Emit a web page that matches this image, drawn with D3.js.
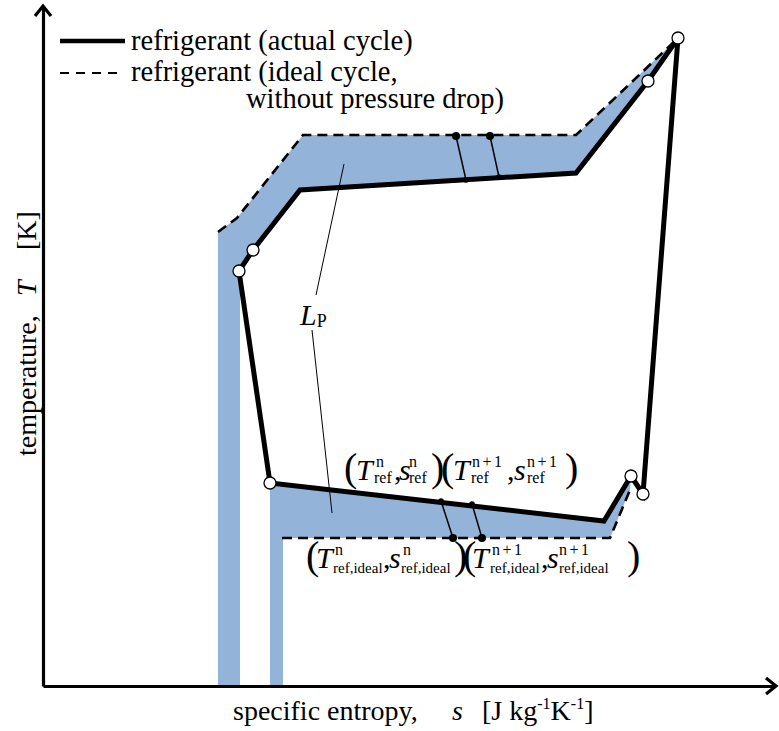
<!DOCTYPE html>
<html><head><meta charset="utf-8">
<script src="https://cdn.jsdelivr.net/npm/d3@7"></script>
<style>body{margin:0;background:#fff}svg{display:block}text{font-family:"Liberation Serif","Times New Roman",serif;fill:#000}</style>
</head><body>
<script>
// ---- data (s in arbitrary entropy units, T in arbitrary temperature units) ----
const actualS = [635, 605, 533, 257, 210, 196, 227, 561, 588, 600, 635];
const actualT = [648, 605, 513, 496, 436, 415, 203, 165, 210, 192, 648];
const stateIdx = [0, 1, 4, 5, 6, 8, 9];            // open-circle state points on actual cycle

const idealTopS = [175, 194, 260, 533, 633];
const idealTopT = [454, 468, 551, 551, 646];
const idealBotS = [239, 567, 587];
const idealBotT = [148, 148, 196];

const bandTopS = [175, 175, 194, 260, 533, 635, 533, 257, 210, 197, 197];
const bandTopT = [0, 454, 468, 551, 551, 648, 513, 496, 436, 415, 0];
const bandBotS = [227, 227, 561, 588, 587, 567, 240, 240];
const bandBotT = [0, 203, 165, 210, 196, 148, 148, 0];

// connecting lines between ideal (1) and actual (2) states n, n+1
const linkS1 = [413, 447, 410, 439];
const linkT1 = [550, 550, 148, 148];
const linkS2 = [423, 456, 398, 429];
const linkT2 = [506, 509, 185, 182];

// L_P leader lines
const leaderAS = [301, 273];
const leaderAT = [522, 391];
const leaderBS = [269, 289];
const leaderBT = [356, 173];

const legendLabels = ["refrigerant (actual cycle)", "refrigerant (ideal cycle,", "without pressure drop)"];
const supLabels = ["n", "n+1"];
const subTop = "ref";
const subBottom = "ref,ideal";

// ---- layout ----
const W = 779, H = 731;
const svg = d3.select("body").append("svg").attr("width", W).attr("height", H);
const x = d3.scaleLinear().domain([0, 732]).range([43, 775]);
const y = d3.scaleLinear().domain([0, 680]).range([686, 6]);
const BLUE = "#94b3d8";
const line = d3.line().x(d => x(d[0])).y(d => y(d[1]));
const zip = (a, b) => a.map((v, i) => [v, b[i]]);

// bands
svg.append("path").attr("d", line(zip(bandTopS, bandTopT)) + "Z").attr("fill", BLUE);
svg.append("path").attr("d", line(zip(bandBotS, bandBotT)) + "Z").attr("fill", BLUE);

// ideal cycle (dashed)
[[idealTopS, idealTopT], [idealBotS, idealBotT]].forEach(([s, t]) => {
  svg.append("path").attr("d", line(zip(s, t))).attr("fill", "none")
    .attr("stroke", "#000").attr("stroke-width", 2.6).attr("stroke-dasharray", "10,6");
});

// leader lines
[[leaderAS, leaderAT], [leaderBS, leaderBT]].forEach(([s, t]) => {
  svg.append("path").attr("d", line(zip(s, t))).attr("stroke", "#000").attr("stroke-width", 1);
});

// actual cycle
svg.append("path").attr("d", line(zip(actualS, actualT))).attr("fill", "none")
  .attr("stroke", "#000").attr("stroke-width", 5).attr("stroke-linejoin", "miter");

// link lines + dots
linkS1.forEach((s, i) => {
  svg.append("line").attr("x1", x(s)).attr("y1", y(linkT1[i])).attr("x2", x(linkS2[i])).attr("y2", y(linkT2[i]))
    .attr("stroke", "#000").attr("stroke-width", 1.5);
});
svg.selectAll(".idot").data(linkS1.map((s, i) => [s, linkT1[i]])).join("circle")
  .attr("cx", d => x(d[0])).attr("cy", d => y(d[1])).attr("r", 4).attr("fill", "#000");
svg.selectAll(".adot").data(linkS2.map((s, i) => [s, linkT2[i]])).join("circle")
  .attr("cx", d => x(d[0])).attr("cy", d => y(d[1])).attr("r", 2.8).attr("fill", "#000");

// state points
svg.selectAll(".st").data(stateIdx).join("circle")
  .attr("cx", i => x(actualS[i])).attr("cy", i => y(actualT[i])).attr("r", 6)
  .attr("fill", "#fff").attr("stroke", "#000").attr("stroke-width", 1.3);

// axes
const xAxis = d3.axisBottom(x).tickValues([]).tickSizeOuter(0);
const yAxis = d3.axisLeft(y).tickValues([]).tickSizeOuter(0);
const gx = svg.append("g").attr("transform", `translate(0,${y(0)})`).call(xAxis);
const gy = svg.append("g").attr("transform", `translate(${x(0)},0)`).call(yAxis);
gx.select(".domain").attr("stroke-width", 3.2);
gy.select(".domain").attr("stroke-width", 3.2);
svg.append("path").attr("d", `M${x(732)-9},${y(0)-8}L${x(732)+1},${y(0)}L${x(732)-9},${y(0)+8}`)
  .attr("fill", "none").attr("stroke", "#000").attr("stroke-width", 3.2);
svg.append("path").attr("d", `M${x(0)-8},${y(680)+10}L${x(0)},${y(680)}L${x(0)+8},${y(680)+10}`)
  .attr("fill", "none").attr("stroke", "#000").attr("stroke-width", 3.2);

// legend
svg.append("line").attr("x1", 60).attr("x2", 125).attr("y1", 41).attr("y2", 41).attr("stroke", "#000").attr("stroke-width", 4.5);
svg.append("line").attr("x1", 60).attr("x2", 122).attr("y1", 73).attr("y2", 73).attr("stroke", "#000").attr("stroke-width", 2)
  .attr("stroke-dasharray", "9,7");
const LFS = 28.5;
svg.append("text").attr("x", 131).attr("y", 50).attr("font-size", LFS).text(legendLabels[0]);
svg.append("text").attr("x", 131).attr("y", 81).attr("font-size", LFS).text(legendLabels[1]);
svg.append("text").attr("x", 246).attr("y", 108).attr("font-size", LFS).text(legendLabels[2]);

// axis labels
const xl = svg.append("text").attr("x", 233).attr("y", 720).attr("font-size", 28);
xl.append("tspan").text("specific entropy,");
xl.append("tspan").attr("x", 452).attr("font-style", "italic").text("s");
xl.append("tspan").attr("x", 482).text("[J kg");
xl.append("tspan").attr("font-size", 16).attr("dy", -11).text("-1");
xl.append("tspan").attr("font-size", 28).attr("dy", 11).text("K");
xl.append("tspan").attr("font-size", 16).attr("dy", -11).text("-1");
xl.append("tspan").attr("font-size", 28).attr("dy", 11).text("]");

const yl = svg.append("text").attr("transform", "translate(36,456) rotate(-90)").attr("font-size", 28);
yl.append("tspan").attr("x", 0).text("temperature,");
yl.append("tspan").attr("x", 160).attr("font-style", "italic").text("T");
yl.append("tspan").attr("x", 206).text("[K]");

// L_P label
const lp = svg.append("text").attr("x", 300).attr("y", 325).attr("font-size", 30);
lp.append("tspan").attr("font-style", "italic").text("L");
lp.append("tspan").attr("font-size", 18).attr("dy", 2).text("P");

// math annotations: one text element per row; offsets relative to the row start
// piece kinds: P paren, I italic main, R roman main, U superscript, D subscript
function mathRow(x0, yb, sub, offs, subDy, subFs) {
  const FM = 30, FS = 16, FP = 40;
  const el = svg.append("text").attr("font-size", FM);
  const pieces = [
    ["P", "(", offs[0]], ["I", "T", offs[1]], ["U", supLabels[0], offs[2]], ["D", sub, offs[3]],
    ["R", ",", offs[4]], ["I", "s", offs[5]], ["U", supLabels[0], offs[6]], ["D", sub, offs[7]], ["P", ")", offs[8]],
    ["P", "(", offs[9]], ["I", "T", offs[10]], ["U", supLabels[1], offs[11]], ["D", sub, offs[12]],
    ["R", ",", offs[13]], ["I", "s", offs[14]], ["U", supLabels[1], offs[15]], ["D", sub, offs[16]], ["P", ")", offs[17]]
  ];
  pieces.forEach(([k, t, dx]) => {
    const ts = el.append("tspan").attr("x", x0 + dx).text(t);
    if (k === "P") ts.attr("y", yb + 1).attr("font-size", FP);
    else if (k === "I") ts.attr("y", yb).attr("font-style", "italic");
    else if (k === "R") ts.attr("y", yb);
    else if (k === "U") ts.attr("y", yb - 13).attr("font-size", FS).attr("letter-spacing", t.length > 1 ? 2.5 : 0);
    else ts.attr("y", yb + subDy).attr("font-size", subFs);
  });
}
mathRow(344, 480, subTop, [0, 12, 32, 30, 50, 55, 65, 65, 87, 97, 109, 128, 127, 163, 170, 183, 183, 221], 3, 16);
mathRow(306, 568, subBottom, [0, 10, 29, 27, 77, 83, 97, 95, 148, 157, 166, 186, 184, 235, 241, 253, 253, 321], 5, 15);
</script>
</body></html>
